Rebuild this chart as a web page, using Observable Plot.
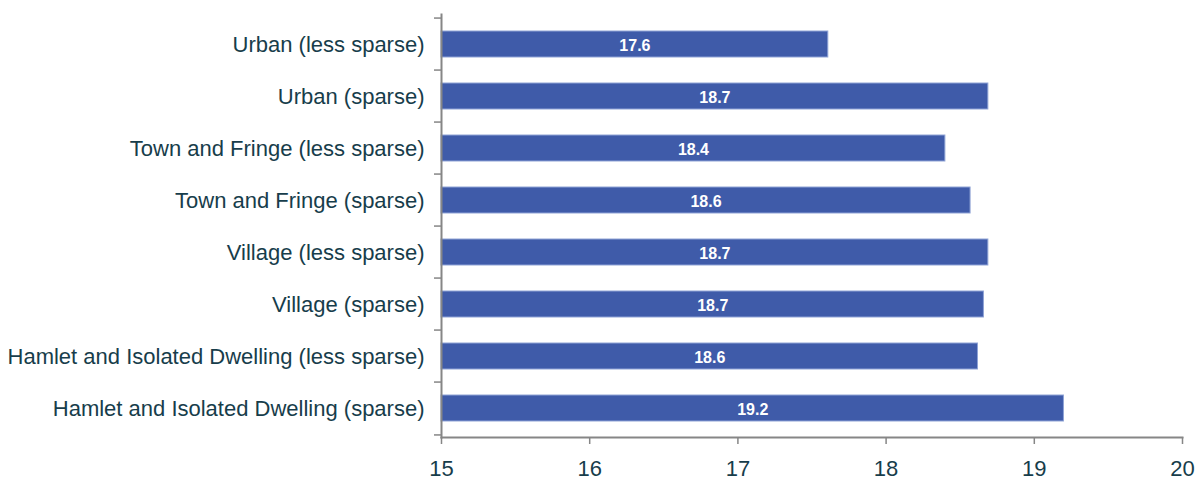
<!DOCTYPE html>
<html>
<head>
<meta charset="utf-8">
<script src="https://cdn.jsdelivr.net/npm/d3@7"></script>
<script src="https://cdn.jsdelivr.net/npm/@observablehq/plot@0.6"></script>
<style>
  html, body { margin: 0; padding: 0; background: #fff; }
  #chart svg { display: block; }
</style>
</head>
<body>
<div id="chart"></div>
<script>
const categories = [
  "Urban (less sparse)",
  "Urban (sparse)",
  "Town and Fringe (less sparse)",
  "Town and Fringe (sparse)",
  "Village (less sparse)",
  "Village (sparse)",
  "Hamlet and Isolated Dwelling (less sparse)",
  "Hamlet and Isolated Dwelling (sparse)"
];
const values = [17.61, 18.69, 18.40, 18.57, 18.69, 18.66, 18.62, 19.20];
const xTicks = [15, 16, 17, 18, 19, 20];

const data = categories.map((c, i) => ({category: c, value: values[i]}));

const W = 1195, H = 479;
const mT = 14, mB = 42, mL = 441, mR = 13;
const step = (H - mT - mB) / categories.length;
const textColor = "#173d4b";
const axisColor = "#868686";

const chart = Plot.plot({
  width: W,
  height: H,
  marginTop: mT,
  marginBottom: mB,
  marginLeft: mL,
  marginRight: mR,
  style: {fontFamily: "'Liberation Sans', Arial, sans-serif", background: "#fff", overflow: "visible"},
  x: {domain: [15, 20]},
  y: {domain: categories, paddingInner: 0.5, paddingOuter: 0.25},
  marks: [
    Plot.barX(data, {
      y: "category", x1: 15, x2: "value",
      fill: "#3f5ba9", stroke: "#8fa3d6", strokeWidth: 1
    }),
    Plot.text(data, {
      y: "category",
      x: d => (15 + d.value) / 2,
      text: d => d.value.toFixed(1),
      fill: "white", fontWeight: "bold", fontSize: 16, dy: 1
    }),
    Plot.frame({anchor: "left", stroke: axisColor, strokeWidth: 2}),
    Plot.frame({anchor: "bottom", stroke: axisColor, strokeWidth: 2}),
    Plot.axisX({
      ticks: xTicks, tickFormat: d => String(d), tickSize: 7, tickPadding: 16,
      stroke: axisColor, strokeWidth: 1.5, fill: textColor, fontSize: 22, label: null
    }),
    Plot.axisY({
      tickSize: 0, tickPadding: 17, fill: textColor, fontSize: 22, label: null
    }),
    Plot.axisY({
      ticks: categories, tickFormat: null, tickSize: 7, dy: -step / 2,
      stroke: axisColor, strokeWidth: 1.5, label: null
    }),
    Plot.axisY({
      ticks: [categories[categories.length - 1]], tickFormat: null, tickSize: 7, dy: step / 2,
      stroke: axisColor, strokeWidth: 1.5, label: null
    })
  ]
});
document.getElementById("chart").appendChild(chart);
</script>
</body>
</html>
